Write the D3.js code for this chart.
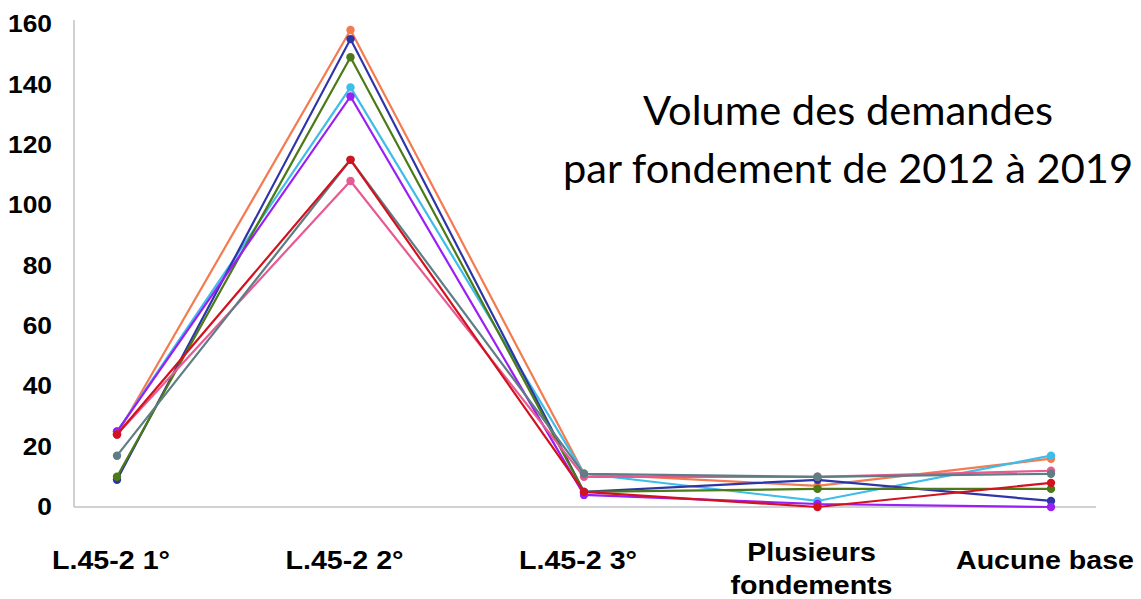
<!DOCTYPE html>
<html>
<head>
<meta charset="utf-8">
<script src="https://cdn.jsdelivr.net/npm/d3@7"></script>
<style>
  html, body { margin: 0; padding: 0; background: #ffffff; }
  svg { display: block; }
</style>
</head>
<body>
<svg id="chart" width="1141" height="599"></svg>
<script>
// Categories (legal grounds) and tick values
const categories = ["L.45-2 1°", "L.45-2 2°", "L.45-2 3°", "Plusieurs fondements", "Aucune base"];
const yTicks = [0, 20, 40, 60, 80, 100, 120, 140, 160];

// One yearly series per line, listed in drawing order
const seriesOrange = [24, 158, 11, 7, 16];
const seriesCyan   = [25, 139, 11, 2, 17];
const seriesBlue   = [9, 155, 5, 9, 2];
const seriesGreen  = [10, 149, 5, 6, 6];
const seriesPurple = [25, 136, 4, 1, 0];
const seriesPink   = [24, 108, 10, 10, 12];
const seriesGray   = [17, 115, 11, 10, 11];
const seriesRed    = [24, 115, 5, 0, 8];

const seriesList = [
  { values: seriesOrange, color: "#f47a50" },
  { values: seriesCyan,   color: "#3dbde9" },
  { values: seriesBlue,   color: "#2e35a8" },
  { values: seriesGreen,  color: "#4b7a17" },
  { values: seriesPurple, color: "#9a1ff5" },
  { values: seriesPink,   color: "#e85a92" },
  { values: seriesGray,   color: "#5f7d85" },
  { values: seriesRed,    color: "#d3121f" }
];

const svg = d3.select("#chart");

const x = d3.scalePoint().domain(categories).range([117, 1051]);
const y = d3.scaleLinear().domain([0, 160]).range([507, 24]);

// Axis lines
const axisColor = "#bfc3c7";
svg.append("line")
  .attr("x1", 74).attr("x2", 74)
  .attr("y1", 20).attr("y2", y(0))
  .attr("stroke", axisColor).attr("stroke-width", 1.5);
svg.append("line")
  .attr("x1", 74).attr("x2", 1096)
  .attr("y1", y(0)).attr("y2", y(0))
  .attr("stroke", axisColor).attr("stroke-width", 1.5);

// Y tick labels through the D3 axis (domain and tick marks hidden)
const yAxis = svg.append("g")
  .attr("transform", "translate(52,0)")
  .call(d3.axisLeft(y).tickValues(yTicks).tickSize(0).tickPadding(0).tickFormat(d3.format("d")));
yAxis.select(".domain").remove();
yAxis.selectAll("text")
  .attr("x", 0)
  .attr("transform", "scale(1.1,1)")
  .attr("font-family", "'Liberation Sans', Arial, sans-serif")
  .attr("font-weight", "bold")
  .attr("font-size", 24)
  .attr("fill", "#000");

// Category labels under the baseline
const catG = svg.append("g");
categories.forEach(c => {
  const words = c === "Plusieurs fondements" ? ["Plusieurs", "fondements"] : [c];
  const g = catG.append("g")
    .attr("transform", `translate(${x(c) - 6},0)`);
  const t = g.append("text")
    .attr("text-anchor", "middle")
    .attr("transform", "scale(1.1,1)")
    .attr("font-family", "'Liberation Sans', Arial, sans-serif")
    .attr("font-weight", "bold")
    .attr("font-size", 26)
    .attr("fill", "#000");
  if (words.length === 1) {
    t.append("tspan").attr("x", 0).attr("y", 569).text(words[0]);
  } else {
    t.append("tspan").attr("x", 0).attr("y", 561).text(words[0]);
    t.append("tspan").attr("x", 0).attr("y", 594).text(words[1]);
  }
});

// Lines and markers
const line = d3.line()
  .x((d, i) => x(categories[i]))
  .y(d => y(d));

seriesList.forEach(s => {
  const g = svg.append("g");
  g.append("path")
    .datum(s.values)
    .attr("d", line)
    .attr("fill", "none")
    .attr("stroke", s.color)
    .attr("stroke-width", 2.2);
  g.selectAll("circle")
    .data(s.values)
    .join("circle")
    .attr("cx", (d, i) => x(categories[i]))
    .attr("cy", d => y(d))
    .attr("r", 4.2)
    .attr("fill", s.color);
});

// Title
const title = svg.append("g")
  .attr("font-family", "Lato, 'Open Sans', sans-serif")
  .attr("font-size", 40)
  .attr("fill", "#000");
title.append("text")
  .attr("x", 643).attr("y", 125)
  .attr("textLength", 410).attr("lengthAdjust", "spacingAndGlyphs")
  .text("Volume des demandes");
title.append("text")
  .attr("x", 563).attr("y", 183)
  .attr("textLength", 570).attr("lengthAdjust", "spacingAndGlyphs")
  .text("par fondement de 2012 à 2019");
</script>
</body>
</html>
